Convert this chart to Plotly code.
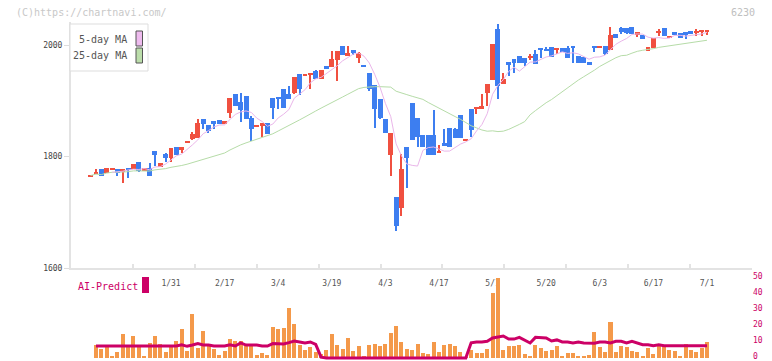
import plotly.graph_objects as go
import pandas as pd

# ---------------- data ----------------
opens = [1765,1770,1777,1770,1776,1777,1772,1779,1777,1791,1774,1780,1810,1782,1804,1797,1818,1811,1826,1832,
         1834,1867,1856,1863,1865,1858,1878,1913,1898,1908,1870,1854,1855,1860,1906,1906,1922,1913,1915,1948,
         1945,1946,1953,1939,1962,1960,1973,1998,1980,1991,1977,1964,1950,1928,1903,1868,1802,1728,1707,1818,
         1897,1870,1838,1838,1838,1808,1825,1852,1850,1874,1828,1886,1886,1886,1915,1937,2029,1930,1969,1975,
         1980,1977,1978,1984,1995,1993,1996,1991,1995,1995,1996,1980,1978,1969,1998,1996,1998,1991,2020,2031,
         2031,2032,2020,2018,1989,1995,2022,2031,2013,2023,2022,2023,2025,2022,2023,2025]
highs = [1766,1777,1777,1779,1777,1777,1777,1779,1786,1791,1779,1789,1810,1789,1806,1816,1818,1818,1827,1845,
         1867,1867,1856,1863,1865,1863,1906,1913,1914,1908,1872,1855,1861,1860,1906,1906,1922,1926,1942,1948,
         1946,1950,1955,1955,1962,1989,1989,1998,1998,1991,1988,1964,1950,1928,1903,1868,1842,1728,1804,1818,
         1897,1870,1838,1838,1883,1820,1850,1852,1852,1874,1829,1886,1888,1913,1931,2003,2038,1950,1969,1975,
         1980,1977,1984,1991,1995,1996,1996,1995,1995,1998,1996,1980,1978,1969,1998,1998,1998,2032,2020,2032,
         2031,2032,2023,2018,1996,2013,2029,2031,2014,2023,2022,2023,2025,2029,2027,2027]
lows = [1765,1770,1766,1770,1776,1766,1752,1761,1777,1772,1774,1766,1784,1782,1790,1791,1802,1806,1826,1829,
        1834,1850,1842,1850,1858,1858,1869,1891,1862,1867,1828,1854,1835,1840,1867,1885,1888,1903,1913,1910,
        1945,1922,1939,1939,1957,1960,1935,1983,1980,1982,1968,1961,1917,1852,1867,1842,1766,1667,1694,1743,
        1829,1818,1817,1802,1802,1808,1819,1818,1833,1833,1828,1835,1876,1886,1890,1937,1903,1930,1944,1950,
        1968,1962,1973,1966,1977,1989,1978,1984,1987,1977,1968,1968,1968,1966,1987,1996,1982,1991,2013,2020,
        2020,2020,2014,2011,1989,1995,2016,2016,2013,2020,2013,2011,2020,2016,2016,2018]
closes = [1766,1771,1766,1779,1777,1770,1777,1777,1786,1774,1779,1766,1802,1789,1797,1816,1803,1818,1827,1841,
          1861,1858,1846,1860,1858,1863,1906,1891,1883,1867,1849,1855,1861,1840,1887,1904,1888,1903,1942,1921,
          1946,1950,1939,1955,1957,1975,1989,1983,1986,1986,1986,1961,1921,1885,1869,1842,1842,1676,1777,1797,
          1829,1836,1817,1802,1802,1809,1819,1818,1833,1833,1829,1847,1888,1890,1931,2003,1927,1940,1964,1968,
          1968,1968,1980,1966,1991,1989,1978,1995,1987,1977,1995,1968,1968,1966,1995,1998,1984,2018,2013,2023,
          2022,2020,2023,2011,1996,2013,2025,2016,2014,2020,2013,2018,2020,2023,2027,2027]

ai_bars = [0,8.3,5.8,6.7,1.5,4.0,15.2,7.7,14.0,7.7,1.5,9.6,14.0,9.0,4.0,7.1,10.8,18.3,4.6,27.7,
           6.5,17.0,8.3,5.8,2.1,4.6,12.1,10.8,10.8,7.7,7.7,2.1,3.3,2.1,19.6,18.3,19.0,31.5,21.5,8.3,
           5.2,7.1,4.0,2.7,5.2,15.2,8.3,5.8,12.7,4.6,7.7,1.5,8.3,9.0,7.7,9.0,15.8,20.2,10.2,5.8,
           5.2,9.0,3.3,2.7,10.2,4.0,8.3,9.0,7.7,4.0,0.5,5.2,3.3,3.3,5.8,40.8,55,5.2,7.7,7.7,
           8.3,2.7,1.5,8.3,6.5,4.6,5.2,7.7,0.8,3.3,3.3,1.5,1.5,2.1,16.5,7.1,4.0,22.7,4.0,7.7,
           7.1,4.6,4.0,0.8,6.5,2.7,9.0,7.7,5.2,4.6,1.5,9.0,5.2,4.0,6.5,10.2]
ai_line = [None] + [7.5]*16 + [8.3,7.3,8.1,9.0,8.1,8.1,7.5,7.5,7.5,8.3,7.5,9.4,8.1,8.1,8.1,7.5,7.5,9.0,8.75,8.75,
           9.6,10.6,10.0,9.4,10.0,8.5,0.5] + [0]*27 + [9.5,10,10,10.4,12.5,13.2,13.75,11.8,11.8,12.9,11,9.4,12.9,
           12.5,12.5,10.6,11.3,10,10,9.4,10,9.4,9.4,9.2,10,10,9.4,10.4,10.4,9.4,10.4,9.4,8.3,8.3,7.7,8.3] + [7.7]*9

tick_pos = [15,25,35,45,55,65,75,85,95,105,115]
tick_text = ["1/31","2/17","3/4","3/19","4/3","4/17","5/1","5/20","6/3","6/17","7/1"]

# ---------------- derived ----------------
n = len(closes)
idx = list(range(n))
cs = pd.Series(closes, dtype=float)
ma5 = cs.rolling(5, min_periods=5).mean()
ma25 = cs.rolling(25, min_periods=1).mean()

UP = "#f05040"
DOWN = "#3d7ef0"
colors = [UP if c >= o else DOWN for o, c in zip(opens, closes)]
body_base = [min(o, c) for o, c in zip(opens, closes)]
body_h = [max(abs(c - o), 2) for o, c in zip(opens, closes)]
wick_h = [h - l for h, l in zip(highs, lows)]

XR = [-3.657, 123.4]
MONO = "DejaVu Sans Mono"

fig = go.Figure()
fig.add_trace(go.Bar(x=idx, y=wick_h, base=lows, width=0.2, marker=dict(color=colors, line=dict(width=0)),
                     xaxis="x", yaxis="y", showlegend=False, hoverinfo="skip"))
fig.add_trace(go.Bar(x=idx, y=body_h, base=body_base, width=0.92, marker=dict(color=colors, line=dict(width=0)),
                     xaxis="x", yaxis="y", showlegend=False))
fig.add_trace(go.Scatter(x=idx, y=ma25, mode="lines", line=dict(color="#b6dca8", width=1),
                         xaxis="x", yaxis="y", showlegend=False))
fig.add_trace(go.Scatter(x=idx, y=ma5, mode="lines", line=dict(color="#eab6ea", width=1),
                         xaxis="x", yaxis="y", showlegend=False))

fig.add_trace(go.Bar(x=idx, y=ai_bars, width=0.75, marker=dict(color="#f4994a", line=dict(width=0)),
                     xaxis="x2", yaxis="y2", showlegend=False))
fig.add_trace(go.Scatter(x=idx, y=ai_line, mode="lines", line=dict(color="#cc0066", width=3),
                         xaxis="x2", yaxis="y2", showlegend=False))
# invisible trace for tick overlay axis
fig.add_trace(go.Scatter(x=[XR[0]], y=[1600], mode="markers", marker=dict(opacity=0),
                         xaxis="x3", yaxis="y", showlegend=False, hoverinfo="skip"))

# The page body has an 8px margin: the figure is drawn 8px smaller and all
# page positions below are shifted by OFF so the photographed page lines up.
OFF = 8
W, H = 772 - OFF, 361 - OFF
MT, MB, ML, MR = 22 - OFF, 1, 71 - OFF, 20
PH = H - MT - MB
PW = W - ML - MR
def py(y):
    return (H - MB - (y - OFF)) / PH
def px(x):
    return (x - OFF - ML) / PW

main_bottom = py(268)
sub_top = py(278)

fig.update_layout(
    width=W, height=H,
    margin=dict(l=ML, r=MR, t=MT, b=MB, autoexpand=False),
    paper_bgcolor="white", plot_bgcolor="white",
    barmode="overlay", bargap=0,
    showlegend=False,
    font=dict(family=MONO, size=8, color="#555"),
    xaxis=dict(domain=[0, 1], anchor="y", range=XR, tickvals=tick_pos, ticktext=tick_text, automargin=False,
               showline=True, linecolor="#e3e3e3", linewidth=2, ticks="", showgrid=False, zeroline=False,
               tickfont=dict(family=MONO, size=8, color="#555"), ticklabelstandoff=6),
    xaxis3=dict(overlaying="x", anchor="y", range=XR, automargin=False,
                tickvals=[XR[0] + (XR[1] - XR[0]) * k / 11 for k in range(12)],
                ticks="inside", ticklen=4, tickwidth=2, tickcolor="#e3e3e3",
                showticklabels=False, showgrid=False, zeroline=False, showline=False),
    yaxis=dict(domain=[main_bottom, 1], anchor="x", range=[1600, 2041.6], tickvals=[1600, 1800, 2000],
               ticks="outside", ticklen=5, tickcolor="#dddddd", showline=True, linecolor="#e3e3e3",
               linewidth=2, showgrid=False, zeroline=False, automargin=False,
               tickfont=dict(family=MONO, size=8, color="#444")),
    xaxis2=dict(domain=[0, 1], anchor="y2", range=XR, visible=False, automargin=False),
    yaxis2=dict(domain=[0, sub_top], anchor="x2", range=[-1.25, 50], side="right", automargin=False,
                tickvals=[0, 10, 20, 30, 40, 50], ticks="", showgrid=False, zeroline=False, showline=False,
                ticklabeloverflow="allow", ticklabelshift=-2,
                tickfont=dict(family=MONO, size=8, color="#cc0066")),
)

shapes = [
    dict(type="rect", xref="paper", yref="paper", x0=px(70), x1=px(148), y0=py(71), y1=py(24),
         line=dict(color="#dddddd", width=1), fillcolor="white", layer="above"),
    dict(type="rect", xref="paper", yref="paper", x0=px(136), x1=px(142.5), y0=py(46), y1=py(31),
         line=dict(color="#555", width=1), fillcolor="#eebbee", layer="above"),
    dict(type="rect", xref="paper", yref="paper", x0=px(136), x1=px(142.5), y0=py(63), y1=py(48),
         line=dict(color="#555", width=1), fillcolor="#bbddaa", layer="above"),
    dict(type="rect", xref="paper", yref="paper", x0=px(142), x1=px(149), y0=py(293), y1=py(277),
         line=dict(width=0), fillcolor="#cc0066", layer="above"),
]
fig.update_layout(shapes=shapes)

ann = [
    dict(text="(C)https://chartnavi.com/", x=px(14), y=py(12), xanchor="left", yanchor="middle",
         font=dict(family=MONO, size=10, color="#c8c8c8")),
    dict(text="6230", x=px(757), y=py(12), xanchor="right", yanchor="middle",
         font=dict(family=MONO, size=10, color="#c0c0c0")),
    dict(text="5-day MA", x=px(129), y=py(39), xanchor="right", yanchor="middle",
         font=dict(family=MONO, size=10, color="#555")),
    dict(text="25-day MA", x=px(129), y=py(56), xanchor="right", yanchor="middle",
         font=dict(family=MONO, size=10, color="#555")),
    dict(text="AI-Predict", x=px(76), y=py(286), xanchor="left", yanchor="middle",
         font=dict(family=MONO, size=10, color="#cc0066")),
]
for a in ann:
    a.update(xref="paper", yref="paper", showarrow=False)
fig.update_layout(annotations=ann)

fig.write_html("out.html")
